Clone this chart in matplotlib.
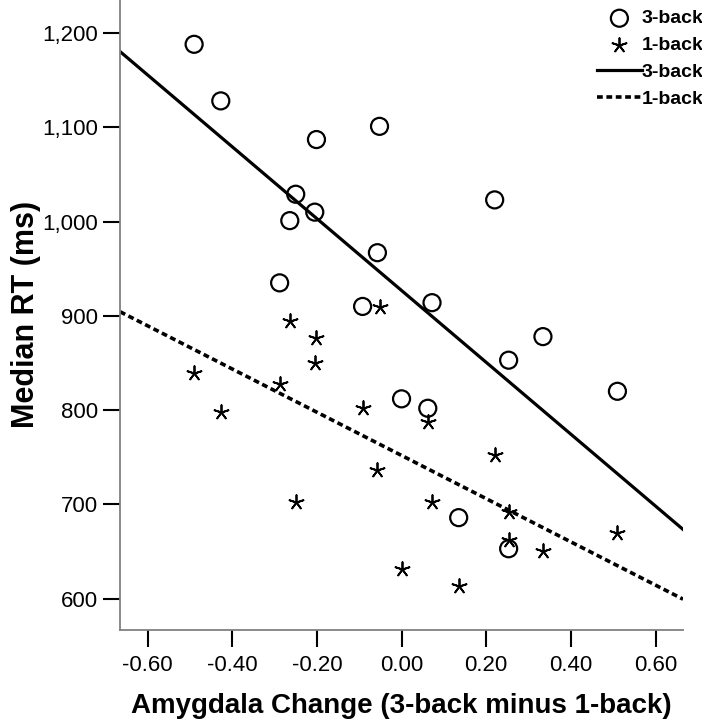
import numpy as np
import matplotlib.pyplot as plt
from matplotlib.ticker import FuncFormatter

plt.rcParams['font.family'] = ['Liberation Sans', 'DejaVu Sans']
plt.rcParams['axes.unicode_minus'] = False

# amygdala change per subject (3-back minus 1-back)
amygdala = [-0.490, -0.427, -0.288, -0.264, -0.250, -0.205, -0.201, -0.092, -0.057, -0.052,
            0.000, 0.062, 0.072, 0.135, 0.220, 0.253, 0.253, 0.334, 0.510]
# median RT (ms)
rt_3back = [1188, 1128, 935, 1001, 1029, 1010, 1087, 910, 967, 1101,
            812, 802, 914, 686, 1023, 853, 653, 878, 820]
rt_1back = [839, 798, 828, 895, 703, 850, 876, 802, 737, 909,
            632, 787, 703, 613, 752, 692, 662, 651, 670]

x = np.array(amygdala)
y3 = np.array(rt_3back)
y1 = np.array(rt_1back)

fig = plt.figure(figsize=(7.02, 7.19), dpi=100)
ax = fig.add_axes([0.171, 0.124, 0.802, 0.876])

xlim = (-0.665, 0.665)
ax.set_xlim(*xlim)
ax.set_ylim(567, 1235)

# fit lines
xx = np.array(xlim)
b3 = np.polyfit(x, y3, 1)
b1 = np.polyfit(x, y1, 1)

h1 = ax.scatter(x, y3, s=150, facecolors='none', edgecolors='black', linewidths=1.6,
                label='3-back', zorder=3)
h2 = ax.scatter(x, y1, s=110, marker=(5, 2, 0), color='black', linewidths=1.3,
                label='1-back', zorder=3)
l1, = ax.plot(xx, np.polyval(b3, xx), color='black', lw=2.3, label='3-back')
l2, = ax.plot(xx, np.polyval(b1, xx), color='black', lw=2.6, dashes=(1.6, 1.0), label='1-back')

ax.set_xticks([-0.6, -0.4, -0.2, 0.0, 0.2, 0.4, 0.6])
ax.set_yticks([600, 700, 800, 900, 1000, 1100, 1200])
ax.xaxis.set_major_formatter(FuncFormatter(lambda v, p: f'{v:.2f}'))
ax.yaxis.set_major_formatter(FuncFormatter(lambda v, p: f'{v:,.0f}'))
ax.tick_params(axis='both', direction='out', length=12, width=1.5, color='black',
               labelsize=16, pad=4)
ax.tick_params(axis='x', pad=6)

for s in ['top', 'right']:
    ax.spines[s].set_visible(False)
for s in ['left', 'bottom']:
    ax.spines[s].set_color('#808080')
    ax.spines[s].set_linewidth(1.3)

ax.set_xlabel('Amygdala Change (3-back minus 1-back)', fontsize=20, fontweight='bold', labelpad=12)
ax.set_ylabel('Median RT (ms)', fontsize=22, fontweight='bold', labelpad=1)

fig.legend(handles=[h1, h2, l1, l2], loc='upper right', bbox_to_anchor=(1.016, 1.0),
           frameon=False, prop={'size': 14, 'weight': 'bold'}, handlelength=2.3,
           handletextpad=0.0, borderpad=0.2, labelspacing=0.48, borderaxespad=0.3)

fig.savefig('out.png', dpi=100)
